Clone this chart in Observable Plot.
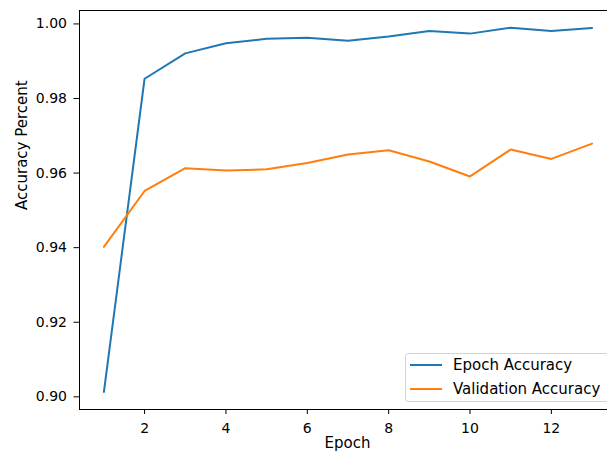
<!DOCTYPE html>
<html><head><meta charset="utf-8">
<script src="https://cdn.jsdelivr.net/npm/d3@7"></script>
<script src="https://cdn.jsdelivr.net/npm/@observablehq/plot@0.6"></script>
<style>
html,body{margin:0;padding:0;overflow:hidden;background:#fff;}
#wrap{position:relative;width:607px;height:455px;overflow:hidden;}
#legend{position:absolute;left:405px;top:353px;width:204px;height:49px;border:1px solid #d4d4d4;border-radius:3px;background:rgba(255,255,255,0.8);font-family:"DejaVu Sans";font-size:15px;color:#000;box-sizing:border-box;}
.row{position:absolute;left:0;height:20px;display:flex;align-items:center;white-space:nowrap;}
.sw{display:inline-block;width:32px;height:2px;margin-left:4px;margin-right:11px;}
</style>
</head><body>
<div id="wrap"><div id="chart"></div><div id="legend"></div></div>
<script>
const epochs = [1, 2, 3, 4, 5, 6, 7, 8, 9, 10, 11, 12, 13];
const epochAccuracy = [0.9013, 0.9853, 0.9921, 0.9948, 0.9960, 0.9963, 0.9955, 0.9966, 0.9981, 0.9974, 0.9990, 0.9981, 0.9989];
const validationAccuracy = [0.9402, 0.9552, 0.9613, 0.9607, 0.9610, 0.9627, 0.9650, 0.9661, 0.9631, 0.9591, 0.9663, 0.9638, 0.9679];
const seriesNames = ["Epoch Accuracy", "Validation Accuracy"];
const seriesColors = ["#1f77b4", "#ff7f0e"];
const xTicks = [2, 4, 6, 8, 10, 12];
const yTicks = [0.90, 0.92, 0.94, 0.96, 0.98, 1.00];
const xLabel = "Epoch";
const yLabel = "Accuracy Percent";

const xDomain = [0.4, 13.38];
const yDomain = [0.8966, 1.0036];

const rows = [];
epochs.forEach((e, i) => {
  rows.push({epoch: e, acc: epochAccuracy[i], series: seriesNames[0]});
});
epochs.forEach((e, i) => {
  rows.push({epoch: e, acc: validationAccuracy[i], series: seriesNames[1]});
});

const chart = Plot.plot({
  width: 607, height: 455,
  marginLeft: 79, marginRight: 0, marginTop: 10, marginBottom: 46,
  style: {fontFamily: "DejaVu Sans", fontSize: "14px", color: "#000", background: "#fff"},
  x: {domain: xDomain},
  y: {domain: yDomain},
  color: {domain: seriesNames, range: seriesColors},
  marks: [
    Plot.line(rows, {x: "epoch", y: "acc", stroke: "series", z: "series", strokeWidth: 2}),
    Plot.ruleX([xDomain[0]], {stroke: "#000", strokeWidth: 1}),
    Plot.ruleY([yDomain[0]], {stroke: "#000", strokeWidth: 1}),
    Plot.ruleY([yDomain[1]], {stroke: "#000", strokeWidth: 1}),
    Plot.axisX({ticks: xTicks, tickSize: 5, tickPadding: 9, label: null, tickFormat: d => String(d), fontSize: 14}),
    Plot.axisY({ticks: yTicks, tickSize: 5.5, tickPadding: 7, label: null, tickFormat: ".2f", fontSize: 14}),
    Plot.text([xLabel], {text: d => d, frameAnchor: "bottom", dy: 38.5, dx: 4, fontSize: 15}),
    Plot.text([yLabel], {text: d => d, frameAnchor: "left", rotate: -90, dx: -57.5, fontSize: 15})
  ]
});
document.getElementById("chart").appendChild(chart);

const legend = document.getElementById("legend");
seriesNames.forEach((name, i) => {
  const row = document.createElement("div");
  row.className = "row";
  row.style.top = (i === 0 ? 1 : 24.5) + "px";
  const sw = document.createElement("span");
  sw.className = "sw";
  sw.style.background = seriesColors[i];
  const t = document.createElement("span");
  t.textContent = name;
  row.appendChild(sw);
  row.appendChild(t);
  legend.appendChild(row);
});
</script>
</body></html>
